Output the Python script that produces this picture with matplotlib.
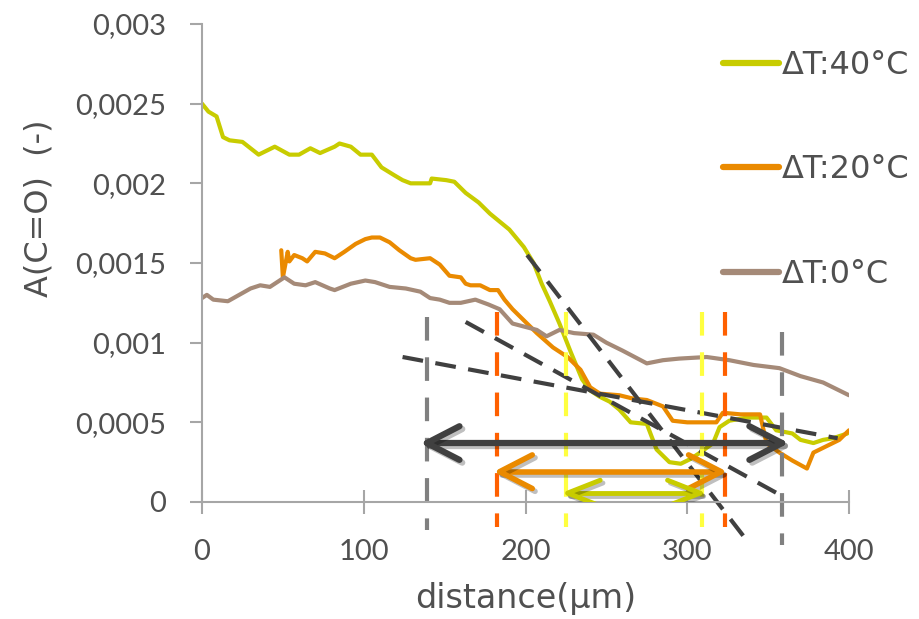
import numpy as np
import matplotlib
matplotlib.use('Agg')
import matplotlib.pyplot as plt
from matplotlib.markers import MarkerStyle
from matplotlib.path import Path
from matplotlib.ticker import FuncFormatter
import matplotlib.patheffects as pe

plt.rcParams['font.family'] = ['Lato', 'DejaVu Sans']
plt.rcParams['lines.scale_dashes'] = False

# ---- data ----
green_x = [0, 4, 9, 13, 17, 25, 35, 45, 54, 60, 67, 73, 82, 85, 92, 98, 105, 111, 119, 124,
           129, 141, 142, 151, 156, 163, 171, 178, 184, 190, 199, 205, 210, 215, 221, 228, 235,
           240, 246, 252, 258, 265, 275, 281, 289, 296, 302, 308, 316, 320, 326, 337, 349, 355,
           365, 370, 378, 384, 390, 399]
green_y = [0.0025, 0.00245, 0.00242, 0.00229, 0.00227, 0.00226, 0.00218, 0.00223, 0.00218, 0.00218,
           0.00222, 0.00219, 0.00223, 0.00225, 0.00223, 0.00218, 0.00218, 0.0021, 0.00205, 0.00202,
           0.002, 0.002, 0.00203, 0.00202, 0.00201, 0.00194, 0.00188, 0.00181, 0.00176, 0.00171,
           0.0016, 0.0015, 0.00137, 0.00126, 0.00112, 0.00094, 0.00077, 0.0007, 0.00066, 0.00063,
           0.00058, 0.0005, 0.00049, 0.00033, 0.00025, 0.00024, 0.00027, 0.00031, 0.00037, 0.00047,
           0.00051, 0.00053, 0.00053, 0.00045, 0.00043, 0.00039, 0.00037, 0.00039, 0.0004, 0.00043]

orange_x = [49, 50, 53, 54, 57, 62, 65, 70, 76, 82, 88, 95, 101, 105, 110, 116, 122, 129, 132, 141,
            147, 153, 160, 163, 166, 172, 178, 183, 187, 192, 197, 207, 217, 226, 234, 240, 246,
            258, 266, 275, 285, 291, 300, 308, 318, 322, 333, 345, 349, 357, 365, 374, 378, 386,
            394, 400]
orange_y = [0.00158, 0.00141, 0.00157, 0.00151, 0.00155, 0.00153, 0.00151, 0.00157, 0.00156, 0.00153,
            0.00157, 0.00162, 0.00165, 0.00166, 0.00166, 0.00163, 0.00158, 0.00153, 0.00152, 0.00153,
            0.00149, 0.00142, 0.00141, 0.00137, 0.00136, 0.00136, 0.00133, 0.00133, 0.00127, 0.00121,
            0.00116, 0.00106, 0.00097, 0.00091, 0.00083, 0.00072, 0.00068, 0.00067, 0.00065, 0.00064,
            0.0006, 0.00051, 0.0005, 0.0005, 0.0005, 0.00056, 0.00055, 0.00055, 0.00037, 0.00031,
            0.00026, 0.00021, 0.00031, 0.00035, 0.00039, 0.00045]

brown_x = [0, 3, 7, 16, 23, 30, 36, 42, 48, 51, 57, 64, 70, 79, 82, 92, 101, 107, 116, 126, 135,
           141, 147, 153, 160, 169, 177, 184, 192, 207, 213, 221, 230, 242, 250, 260, 275, 285,
           295, 312, 326, 341, 357, 370, 384, 394, 400]
brown_y = [0.00128, 0.0013, 0.00127, 0.00126, 0.0013, 0.00134, 0.00136, 0.00135, 0.00139, 0.00141,
           0.00137, 0.00136, 0.00138, 0.00134, 0.00133, 0.00137, 0.00139, 0.00138, 0.00135, 0.00134,
           0.00132, 0.00128, 0.00127, 0.00125, 0.00125, 0.00127, 0.00124, 0.00121, 0.00112, 0.00108,
           0.00104, 0.00108, 0.00106, 0.00105, 0.001, 0.00095, 0.00087, 0.00089, 0.0009, 0.00091,
           0.00089, 0.00086, 0.00084, 0.00079, 0.00075, 0.0007, 0.00067]

labels = ['\u0394T:40\u00b0C', '\u0394T:20\u00b0C', '\u0394T:0\u00b0C']
colors = ['#c8cc00', '#ea8a00', '#a58a78']

# tangent lines (x0, y0, x1, y1)
tangents = [(201, 0.00155, 339, -0.00027),
            (163, 0.00113, 360, 0.00003),
            (124, 0.00091, 393, 0.00040)]
# vertical limits (x, color, ytop, ybottom)
verticals = [(139, '#808080', 0.00116, -0.000176), (358.6, '#808080', 0.00107, -0.00027),
             (182.4, '#ff6000', 0.00119, -0.00016), (323.3, '#ff6000', 0.00119, -0.00016),
             (225, '#ffff40', 0.00119, -0.00016), (309, '#ffff40', 0.00119, -0.00016)]
# double arrows (x0, x1, y, color, lw, head half-width)
arrows = [(139, 358.6, 0.00037, '#404040', 4.5, 17),
          (184, 321, 0.00019, '#ea8a00', 4.0, 17),
          (226, 308, 0.000056, '#c8cc00', 3.5, 13)]

text_col = '#505050'
axis_col = '#a6a6a6'
label_font = ['DejaVu Sans']


def chevron(half_width, flip):
    s = -1 if flip else 1
    p = Path([(s * 33, half_width), (0, 0), (s * 33, -half_width)],
             [Path.MOVETO, Path.LINETO, Path.LINETO])
    return MarkerStyle(p, fillstyle='none', capstyle='round', joinstyle='round')


fig = plt.figure(figsize=(9.19, 6.19), dpi=100)
ax = fig.add_axes([202 / 919, 1 - 502 / 619, 647 / 919, 478 / 619])

for xs, ys, c, lab in zip([green_x, orange_x, brown_x], [green_y, orange_y, brown_y], colors, labels):
    ax.plot(xs, ys, color=c, lw=3, label=lab, solid_capstyle='round', solid_joinstyle='round')

for x0, y0, x1, y1 in tangents:
    ax.plot([x0, x1], [y0, y1], color='#404040', lw=3, ls=(0, (15, 9)), clip_on=False)

for x, c, yt, yb in verticals:
    ax.plot([x, x], [yt, yb], color=c, lw=3, ls=(0, (17, 12)), clip_on=False)

shadow = [pe.SimpleLineShadow(offset=(2, -2), alpha=0.25, shadow_color='black'), pe.Normal()]
for x0, x1, y, c, lw, hw in arrows:
    ax.plot([x0, x1], [y, y], color=c, lw=lw, solid_capstyle='round', zorder=5,
            path_effects=shadow)
    ax.plot([x0], [y], marker=chevron(hw, False), ms=47, mew=lw, color=c, zorder=5,
            path_effects=shadow)
    ax.plot([x1], [y], marker=chevron(hw, True), ms=47, mew=lw, color=c, zorder=5,
            path_effects=shadow)

ax.set_xlim(0, 400)
ax.set_ylim(0, 0.003)
ax.set_xticks([0, 100, 200, 300, 400])
ax.set_yticks([0, 0.0005, 0.001, 0.0015, 0.002, 0.0025, 0.003])
ax.yaxis.set_major_formatter(FuncFormatter(lambda v, p: ('%g' % v).replace('.', ',')))

for s in ['top', 'right']:
    ax.spines[s].set_visible(False)
for s in ['left', 'bottom']:
    ax.spines[s].set_color(axis_col)
    ax.spines[s].set_linewidth(1.5)

ax.tick_params(axis='y', direction='out', length=9, width=1.5, color=axis_col,
               labelsize=21, labelcolor=text_col, pad=17)
ax.tick_params(axis='x', direction='inout', length=17, width=1.5, color=axis_col,
               labelsize=21, labelcolor=text_col, pad=18)

ax.set_xlabel('distance(\u00b5m)', fontsize=24, color=text_col, family=label_font)
ax.xaxis.set_label_coords(0.5, -0.168)
ax.set_ylabel('A(C=O)  (-)', fontsize=23, color=text_col, family=label_font)
ax.yaxis.set_label_coords(-0.228, 0.615)

leg = fig.legend(loc='upper left', bbox_to_anchor=(723 / 919, 1 - 50 / 619), frameon=False,
                 prop={'family': label_font, 'size': 23}, handlelength=1.75, handletextpad=0.1,
                 labelspacing=2.3, borderpad=0, borderaxespad=0, labelcolor=text_col)
for h in leg.get_lines():
    h.set_linewidth(4.5)

fig.savefig('out.png', dpi=100)
